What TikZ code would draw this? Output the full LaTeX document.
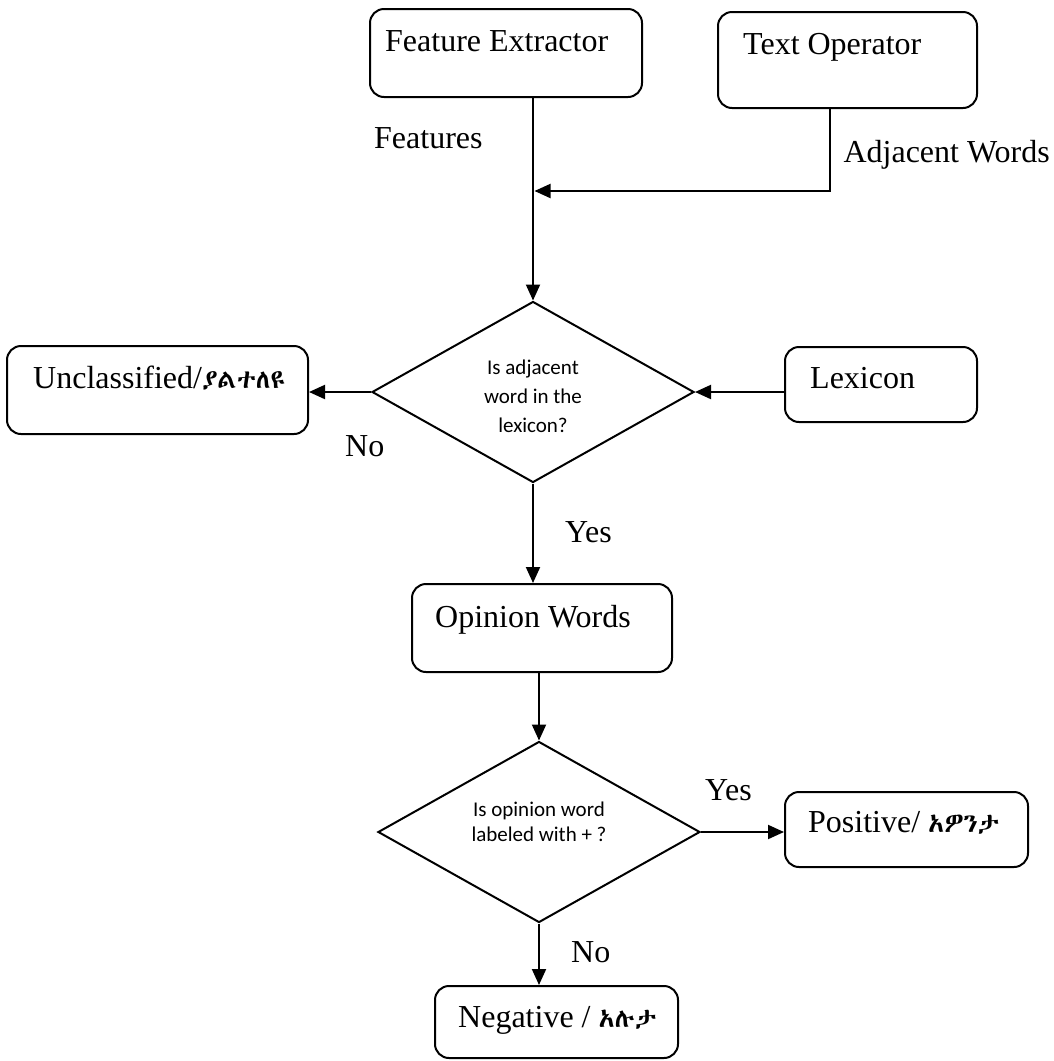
\documentclass[tikz,border=0pt]{standalone}
\usepackage{fontspec}
\setmainfont{Liberation Serif}
\newfontfamily\calfont{Carlito}
\IfFontExistsTF{Abyssinica SIL}{\newfontfamily\ethfont[Scale=0.82]{Abyssinica SIL}}{%
 \IfFontExistsTF{FreeSerif}{\newfontfamily\ethfont[Scale=0.82]{FreeSerif}}{%
  \IfFontExistsTF{Noto Sans Ethiopic}{\newfontfamily\ethfont[Scale=0.82]{Noto Sans Ethiopic}}{\newfontfamily\ethfont[Scale=0.82]{DejaVu Sans}}}}
\usetikzlibrary{shapes.geometric,arrows.meta}
\begin{document}
\begin{tikzpicture}[x=1pt,y=-1pt,
  box/.style={draw,line width=2pt,rounded corners=14pt,inner sep=0pt},
  lbl/.style={font=\fontsize{32}{38}\selectfont,inner sep=0pt,anchor=base west},
  dia/.style={draw,diamond,line width=2pt,inner sep=0pt,minimum width=322pt,minimum height=181pt},
  dtxt/.style={font=\calfont\fontsize{21}{29}\selectfont,align=center,inner sep=0pt},
  arr/.style={line width=2pt,-{Triangle[length=16pt,width=14pt]}}]
\useasboundingbox (0,0) rectangle (1053,1061);
\node[box,minimum width=272pt,minimum height=88pt] (fe) at (506,53) {};
\node[lbl] (fet) at (385,51) {Feature Extractor};
\node[box,minimum width=259pt,minimum height=96pt] (to) at (847.5,60) {};
\node[lbl] (tot) at (743,54) {Text Operator};
\node[lbl] (feat) at (374,148) {Features};
\node[lbl,anchor=base east] (adj) at (1050,162) {Adjacent Words};
\node[dia] (d1) at (533,392) {};
\node[dtxt] (d1t) at (533,396) {Is adjacent\\word in the\\lexicon?};
\node[box,minimum width=192pt,minimum height=75pt] (lex) at (881,384.5) {};
\node[lbl] (lext) at (810,388) {Lexicon};
\node[box,minimum width=301pt,minimum height=88pt] (unc) at (157.5,390) {};
\node[lbl] (unct) at (33,388) {Unclassified/{\ethfont ያልተለዩ}};
\node[lbl] (no1) at (345,456) {No};
\node[lbl] (yes1) at (565,542) {Yes};
\node[box,minimum width=260pt,minimum height=88pt] (ow) at (542,628) {};
\node[lbl] (owt) at (435,627) {Opinion Words};
\node[dia] (d2) at (539,832) {};
\node[dtxt,font=\calfont\fontsize{21}{25}\selectfont] (d2t) at (539,822) {Is opinion word\\labeled with + ?};
\node[lbl] (yes2) at (705,800) {Yes};
\node[box,minimum width=243pt,minimum height=75pt] (pos) at (906.5,829.5) {};
\node[lbl] (post) at (808,832) {Positive/ {\ethfont አዎንታ}};
\node[lbl] (no2) at (571,962) {No};
\node[box,minimum width=243pt,minimum height=72pt] (neg) at (556.5,1022) {};
\node[lbl] (negt) at (458,1027) {Negative / {\ethfont አሉታ}};
\coordinate (tob) at (830,0);
\coordinate (join) at (534.5,191);
\draw[arr] (d1.north |- fe.south) -- (d1.north);
\draw[arr] (to.south -| tob) |- (join);
\draw[arr] (lex.west |- d1.east) -- (d1.east);
\draw[arr] (d1.west) -- (unc.east |- d1.west);
\draw[arr] (d1.south) -- (d1.south |- ow.north);
\draw[arr] (ow.south -| d2.north) -- (d2.north);
\draw[arr] (d2.east) -- (pos.west |- d2.east);
\draw[arr] (d2.south) -- (d2.south |- neg.north);
\end{tikzpicture}
\end{document}
